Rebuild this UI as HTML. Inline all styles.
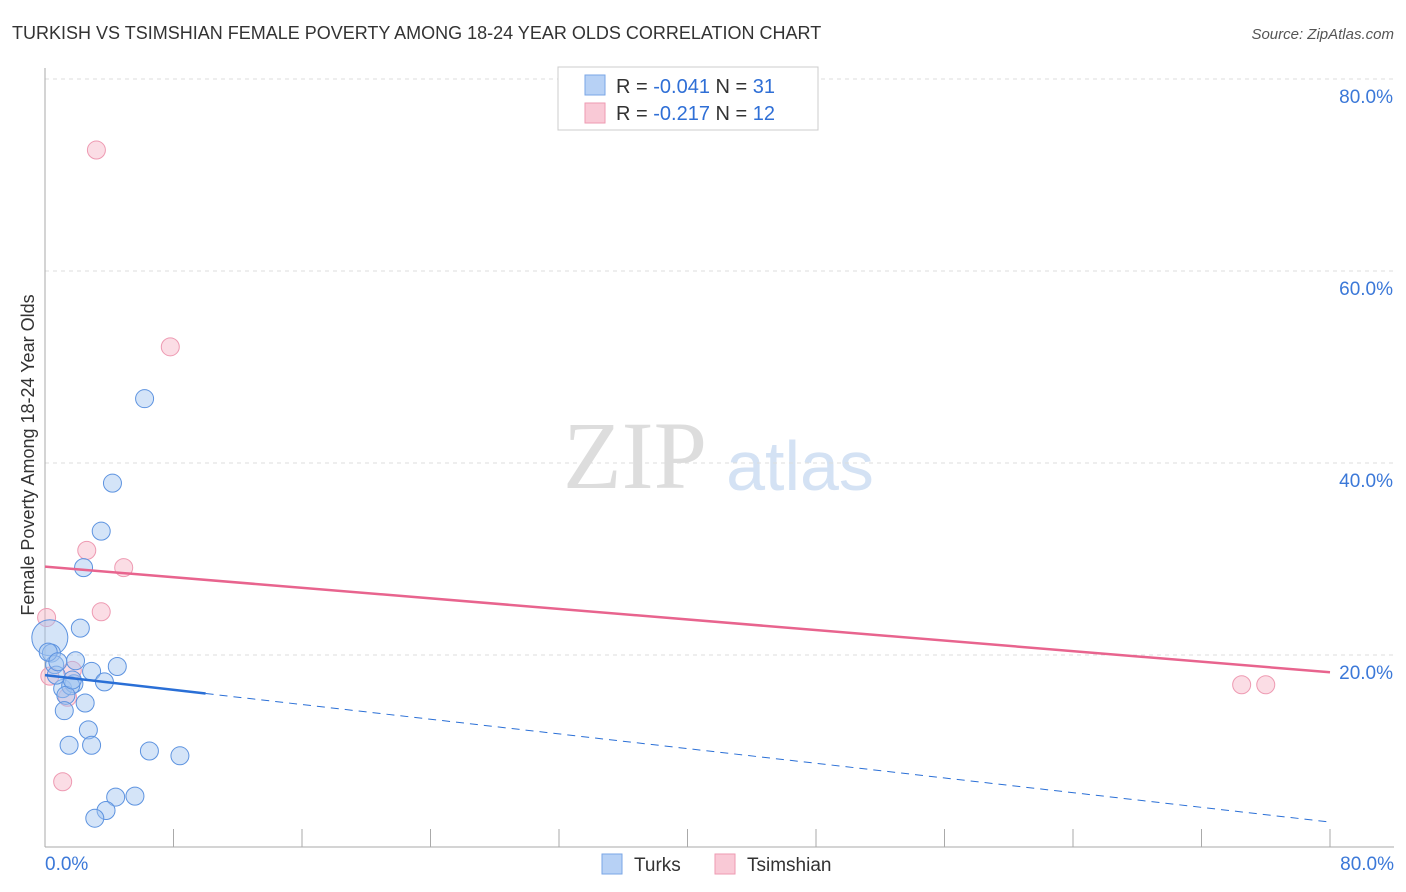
<!DOCTYPE html>
<html><head><meta charset="utf-8"><style>
body{margin:0;background:#fff;font-family:"Liberation Sans",sans-serif;}
svg{display:block}
</style></head><body>
<svg width="1406" height="892" xmlns="http://www.w3.org/2000/svg">
<text x="12" y="39" font-size="18" fill="#333">TURKISH VS TSIMSHIAN FEMALE POVERTY AMONG 18-24 YEAR OLDS CORRELATION CHART</text>
<text x="1394" y="39" font-size="15" fill="#555" font-style="italic" text-anchor="end">Source: ZipAtlas.com</text>
<g>
<text x="635" y="488" font-size="96" fill="#ddd" font-family="Liberation Serif" text-anchor="middle">ZIP</text>
<text x="800" y="490" font-size="70" fill="#d4e2f4" text-anchor="middle">atlas</text>
</g>
<g id="grid"></g>
<g id="axes"></g>
<g id="marks"></g>
<text transform="translate(34,455) rotate(-90)" font-size="18" fill="#333" text-anchor="middle">Female Poverty Among 18-24 Year Olds</text>
<g>
<rect x="558" y="67" width="260" height="63" fill="#fff" stroke="#ccc"/>
<rect x="585" y="75" width="20" height="20" fill="#b7d1f5" stroke="#7aa6e6"/>
<rect x="585" y="103" width="20" height="20" fill="#f9c9d6" stroke="#ee9ab2"/>
<text x="616" y="93" font-size="20" fill="#333">R = <tspan fill="#2f6fd6">-0.041</tspan>   N = <tspan fill="#2f6fd6">31</tspan></text>
<text x="616" y="120" font-size="20" fill="#333">R =  <tspan fill="#2f6fd6">-0.217</tspan>   N = <tspan fill="#2f6fd6">12</tspan></text>
</g>
<g>
<rect x="602" y="854" width="20" height="20" fill="#b7d1f5" stroke="#7aa6e6"/>
<text x="634" y="871" font-size="19" fill="#333">Turks</text>
<rect x="715" y="854" width="20" height="20" fill="#f9c9d6" stroke="#ee9ab2"/>
<text x="747" y="871" font-size="19" fill="#333">Tsimshian</text>
</g>
</svg>
<script>
const yTicks=[20,40,60,80];
const yTickLabels=["20.0%","40.0%","60.0%","80.0%"];
const xTickLabels=["0.0%","80.0%"];
const turksX=[6.2,4.2,3.5,2.4,2.2,0.3,0.4,0.6,1.9,2.9,4.5,1.1,1.8,1.6,1.3,3.7,0.7,2.5,1.2,2.7,1.5,2.9,6.5,8.4,4.4,5.6,3.8,3.1,0.2,1.7,0.8];
const turksY=[46.7,37.9,32.9,29.1,22.8,21.8,20.2,19.0,19.4,18.3,18.8,16.5,17.0,16.8,15.8,17.2,17.9,15.0,14.2,12.2,10.6,10.6,10.0,9.5,5.2,5.3,3.8,3.0,20.3,17.4,19.3];
const turksBig=[5];
const tsX=[3.2,7.8,2.6,4.9,3.5,0.1,1.7,1.4,1.1,74.5,76.0,0.3];
const tsY=[72.6,52.1,30.9,29.1,24.5,23.9,18.4,15.6,6.8,16.9,16.9,17.8];
const turksLine=[17.9,2.6];
const turksSolidEnd=10;
const tsLine=[29.2,18.2];
const NS="http://www.w3.org/2000/svg";
const X=v=>45+v*(1285/80);
const Y=v=>847-v*9.6;
function mk(p,t,a){const e=document.createElementNS(NS,t);for(const k in a)e.setAttribute(k,a[k]);p.appendChild(e);return e;}
const grid=document.getElementById('grid'),axes=document.getElementById('axes'),marks=document.getElementById('marks');
yTicks.forEach((t,i)=>{
 const l=mk(grid,'line',{x1:45,x2:1394,y1:Y(t),y2:Y(t),stroke:'#ddd','stroke-dasharray':'4,4'});
 
 
 const tx=mk(axes,'text',{x:1393,y:Y(t)+24,'font-size':19,fill:'#3b78d8','text-anchor':'end'});
 tx.textContent=yTickLabels[i];
 
 
});
const ax=mk(axes,'line',{x1:45,x2:45,y1:68,y2:847,stroke:'#aaa'});


const bx=mk(axes,'line',{x1:45,x2:1394,y1:847,y2:847,stroke:'#aaa'});


for(let i=0;i<=10;i++){
 const t=mk(axes,'line',{x1:X(i*8),x2:X(i*8),y1:829,y2:847,stroke:'#aaa'});
 
 
}
const xl0=mk(axes,'text',{x:45,y:870,'font-size':19,fill:'#3b78d8'});xl0.textContent=xTickLabels[0];


const xl1=mk(axes,'text',{x:1394,y:870,'font-size':19,fill:'#3b78d8','text-anchor':'end'});xl1.textContent=xTickLabels[1];


tsX.forEach((x,i)=>{
 const c=mk(marks,'circle',{cx:X(x),cy:Y(tsY[i]),r:9,fill:'rgba(246,180,198,0.45)',stroke:'#ee9ab2','stroke-width':1});
 
 
});
turksX.forEach((x,i)=>{
 const c=mk(marks,'circle',{cx:X(x),cy:Y(turksY[i]),r:turksBig.includes(i)?18:9,fill:'rgba(160,195,240,0.45)',stroke:'#5d93e0','stroke-width':1});
 
 
});
const ty=x=>turksLine[0]+(turksLine[1]-turksLine[0])*x/80;
const l1=mk(marks,'line',{x1:X(0),y1:Y(ty(0)),x2:X(turksSolidEnd),y2:Y(ty(turksSolidEnd)),stroke:'#2a6fd6','stroke-width':2.5});


const l2=mk(marks,'line',{x1:X(turksSolidEnd),y1:Y(ty(turksSolidEnd)),x2:X(80),y2:Y(ty(80)),stroke:'#2a6fd6','stroke-width':1,'stroke-dasharray':'8,6'});


const l3=mk(marks,'line',{x1:X(0),y1:Y(tsLine[0]),x2:X(80),y2:Y(tsLine[1]),stroke:'#e8648e','stroke-width':2.5});


</script>
</body></html>
